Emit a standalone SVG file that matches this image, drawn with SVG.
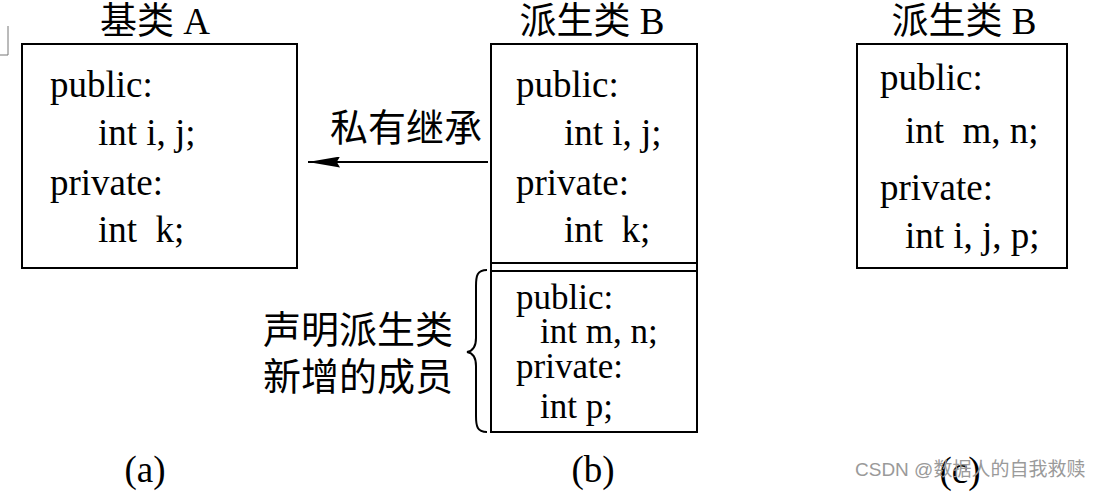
<svg xmlns="http://www.w3.org/2000/svg" width="1102" height="498" viewBox="0 0 1102 498">
<defs>
<style>
.box{fill:none;stroke:#000;stroke-width:2}
.t{font-family:"Liberation Serif","Noto Sans CJK SC",serif;font-size:37px;fill:#000}
.s{font-family:"Liberation Serif","Noto Sans CJK SC",serif;font-size:35px;fill:#000}
.cj{font-family:"Liberation Serif","Noto Sans CJK SC",serif;font-size:38px;fill:#000}
.ti{font-family:"Liberation Serif","Noto Sans CJK SC",serif;font-size:37px;fill:#000}
.ln{stroke:#000;stroke-width:2;fill:none}
.wm{font-family:"Liberation Sans","Noto Sans CJK SC",sans-serif;font-size:19px;fill:#9a9a9a}
</style>
<marker id="ah" viewBox="0 0 10 10" refX="10" refY="5" markerWidth="32" markerHeight="11" markerUnits="userSpaceOnUse" orient="auto" preserveAspectRatio="none">
<path d="M0,0 L10,5 L0,10 L1,5 Z" fill="#000"/>
</marker>
</defs>
<rect width="1102" height="498" fill="#fff"/>
<path d="M8,26 V55 M0,55 H8" stroke="#777" stroke-width="1" fill="none"/>

<g id="classA">
<text class="ti" x="155" y="34" text-anchor="middle">基类 A</text>
<rect class="box" x="22" y="44" width="275" height="224"/>
<text class="t" x="50" y="97">public:</text>
<text class="t" x="98" y="145">int i, j;</text>
<text class="t" x="50" y="195">private:</text>
<text class="t" x="98" y="242" xml:space="preserve">int  k;</text>
<text class="t" x="145" y="482" text-anchor="middle">(a)</text>
</g>

<g id="classB">
<text class="ti" x="592" y="34" text-anchor="middle">派生类 B</text>
<rect class="box" x="491" y="44" width="206" height="388"/>
<path class="ln" d="M491,263 H697 M491,271 H697"/>
<text class="t" x="516" y="97">public:</text>
<text class="t" x="564" y="145">int i, j;</text>
<text class="t" x="516" y="195">private:</text>
<text class="t" x="564" y="242" xml:space="preserve">int  k;</text>
<text class="s" x="516" y="309">public:</text>
<text class="s" x="540" y="343">int m, n;</text>
<text class="s" x="516" y="378">private:</text>
<text class="s" x="540" y="418">int p;</text>
<text class="t" x="593" y="482" text-anchor="middle">(b)</text>
</g>

<g id="newMembers">
<text class="cj" x="263" y="343">声明派生类</text>
<text class="cj" x="263" y="390">新增的成员</text>
<path class="ln" stroke-width="1.6" d="M487,270 C477,270 476,276 476,286 L476,338 C476,347 473,351 467,352 C473,353 476,357 476,366 L476,416 C476,426 477,432 487,432"/>
</g>

<g id="classC">
<text class="ti" x="964" y="34" text-anchor="middle">派生类 B</text>
<rect class="box" x="857" y="44" width="210" height="224"/>
<text class="t" x="880" y="90">public:</text>
<text class="t" x="905" y="143" xml:space="preserve">int  m, n;</text>
<text class="t" x="880" y="200">private:</text>
<text class="t" x="905" y="248">int i, j, p;</text>
<text class="t" x="960" y="483" text-anchor="middle">(c)</text>
</g>

<g id="connectors">
<line class="ln" x1="488" y1="162" x2="308" y2="162" marker-end="url(#ah)"/>
<text class="cj" x="330" y="141">私有继承</text>
</g>

<text class="wm" x="855" y="476">CSDN @数据人的自我救赎</text>
</svg>
